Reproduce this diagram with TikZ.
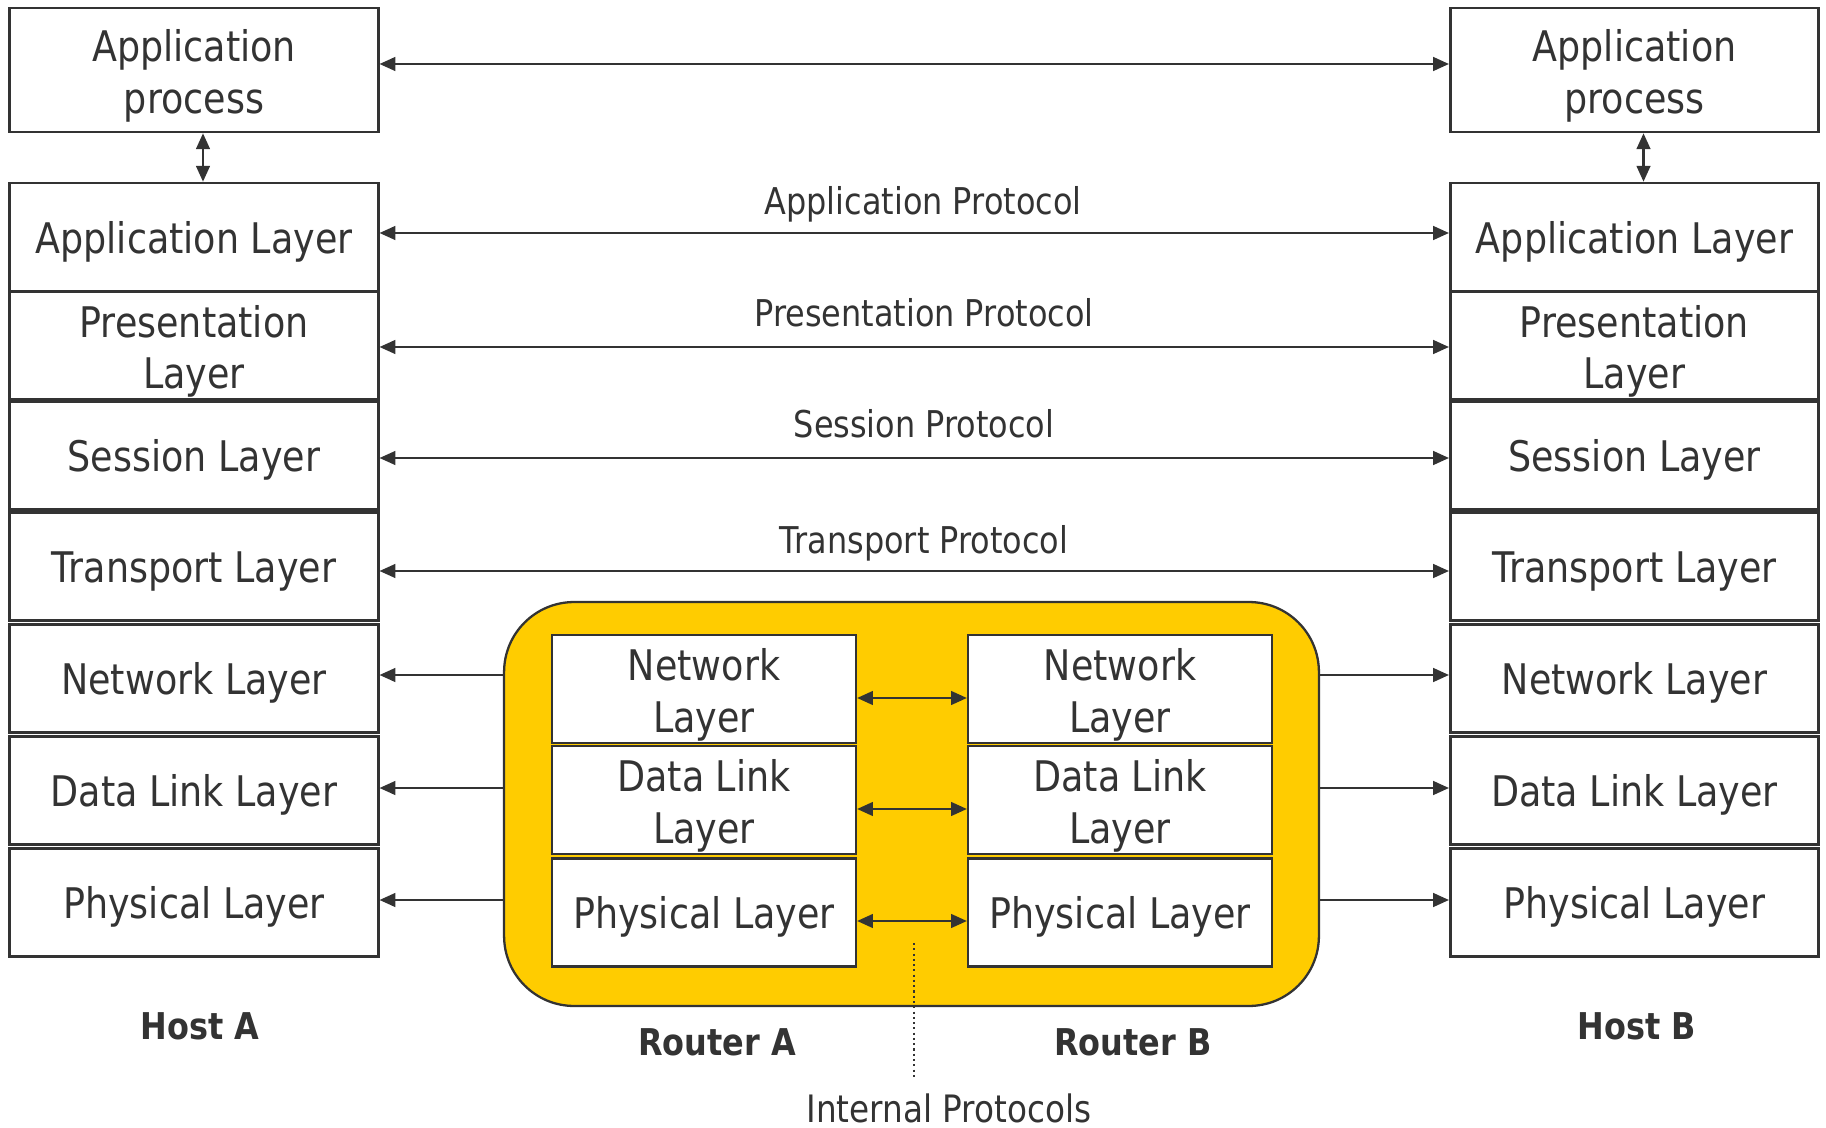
\documentclass[tikz,border=0pt]{standalone}
\usepackage{fontspec}
\setmainfont{DejaVu Sans}[FakeStretch=0.865]
\usetikzlibrary{arrows.meta}
\definecolor{ink}{HTML}{333333}
\definecolor{routerfill}{HTML}{FFCC00}
\begin{document}
\begin{tikzpicture}[x=0.02cm,y=-0.02cm,
  box/.style={draw=ink, line width=1.5pt, fill=white, inner sep=0pt, text=ink,
    font=\fontsize{24}{29.3}\selectfont, align=center,
    execute at begin node={\rule{0pt}{23.5pt}},
    minimum width=7.37cm, minimum height=2.16cm},
  twoline/.style={execute at begin node={\rule{0pt}{54pt}}},
  rbox/.style={box, line width=1.3pt, minimum width=6.08cm},
  lbl/.style={text=ink, font=\fontsize{21}{25}\selectfont, inner sep=0pt, anchor=base},
  blbl/.style={text=ink, font=\bfseries\fontsize{21}{25}\selectfont, inner sep=0pt, anchor=base},
  biarr/.style={draw=ink, line width=1.25pt, {Triangle[length=9pt,width=7.8pt]}-{Triangle[length=9pt,width=7.8pt]}},
  arr/.style={draw=ink, line width=1.25pt, -{Triangle[length=9pt,width=7.8pt]}}]
\useasboundingbox (0,0) rectangle (1826,1128);

% router background
\node[draw=ink, line width=1.3pt, fill=routerfill, rounded corners=1.4cm,
  minimum width=16.3cm, minimum height=8.08cm, inner sep=0pt] (router) at (911.5,804) {};

% Host A
\node[box, twoline, minimum height=2.48cm] (apL) at (194,70) {Application\\process};
\node[box] (appL) at (194,237) {Application Layer};
\node[box, twoline] (preL) at (194,345.5) {Presentation\\Layer};
\node[box] (sesL) at (194,455.5) {Session Layer};
\node[box] (traL) at (194,566.5) {Transport Layer};
\node[box] (netL) at (194,678.5) {Network Layer};
\node[box] (dllL) at (194,790.5) {Data Link Layer};
\node[box] (phyL) at (194,902.5) {Physical Layer};

% Host B
\node[box, twoline, minimum height=2.48cm] (apR) at (1634.5,70) {Application\\process};
\node[box] (appR) at (1634.5,237) {Application Layer};
\node[box, twoline] (preR) at (1634.5,345.5) {Presentation\\Layer};
\node[box] (sesR) at (1634.5,455.5) {Session Layer};
\node[box] (traR) at (1634.5,566.5) {Transport Layer};
\node[box] (netR) at (1634.5,678.5) {Network Layer};
\node[box] (dllR) at (1634.5,790.5) {Data Link Layer};
\node[box] (phyR) at (1634.5,902.5) {Physical Layer};

% Routers
\node[rbox, twoline] (netA) at (704,689) {Network\\Layer};
\node[rbox, twoline] (dllA) at (704,800) {Data Link\\Layer};
\node[rbox] (phyA) at (704,912.5) {Physical Layer};
\node[rbox, twoline] (netB) at (1120,689) {Network\\Layer};
\node[rbox, twoline] (dllB) at (1120,800) {Data Link\\Layer};
\node[rbox] (phyB) at (1120,912.5) {Physical Layer};

% top arrows
\draw[biarr] ([yshift=0.12cm]apL.east) -- ([yshift=0.12cm]apR.west);
\draw[biarr] ([xshift=0.18cm]apL.south) -- ([xshift=0.18cm]appL.north);
\draw[biarr] ([xshift=0.18cm]apR.south) -- ([xshift=0.18cm]appR.north);

% protocol arrows
\draw[biarr] ([yshift=0.08cm]appL.east) -- ([yshift=0.08cm]appR.west);
\draw[biarr] ([yshift=-0.03cm]preL.east) -- ([yshift=-0.03cm]preR.west);
\draw[biarr] ([yshift=-0.05cm]sesL.east) -- ([yshift=-0.05cm]sesR.west);
\draw[biarr] ([yshift=-0.09cm]traL.east) -- ([yshift=-0.09cm]traR.west);

\node[lbl] (lapp) at (923,215) {Application Protocol};
\node[lbl] (lpre) at (924,327) {Presentation Protocol};
\node[lbl] (lses) at (924,438) {Session Protocol};
\node[lbl] (ltra) at (924,553) {Transport Protocol};

% side arrows
\draw[arr] ([yshift=0.07cm]router.west |- netL.east) -- ([yshift=0.07cm]netL.east);
\draw[arr] ([yshift=0.05cm]router.west |- dllL.east) -- ([yshift=0.05cm]dllL.east);
\draw[arr] ([yshift=0.05cm]router.west |- phyL.east) -- ([yshift=0.05cm]phyL.east);
\draw[arr] ([yshift=0.07cm]router.east |- netR.west) -- ([yshift=0.07cm]netR.west);
\draw[arr] ([yshift=0.05cm]router.east |- dllR.west) -- ([yshift=0.05cm]dllR.west);
\draw[arr] ([yshift=0.05cm]router.east |- phyR.west) -- ([yshift=0.05cm]phyR.west);

% router internal arrows
\draw[biarr] ([yshift=-0.18cm]netA.east) -- ([yshift=-0.18cm]netB.west);
\draw[biarr] ([yshift=-0.18cm]dllA.east) -- ([yshift=-0.18cm]dllB.west);
\draw[biarr] ([yshift=-0.17cm]phyA.east) -- ([yshift=-0.17cm]phyB.west);

% labels
\node[blbl] (hostA) at (200,1039) {Host A};
\node[blbl] (hostB) at (1637,1039) {Host B};
\node[blbl] (routA) at (717,1055) {Router A};
\node[blbl] (routB) at (1133,1055) {Router B};
\node[lbl, font=\fontsize{21.5}{25}\selectfont] (internal) at (949,1122) {Internal Protocols};

\coordinate (dotTop) at (914,943);
\coordinate (dotBot) at (914,1077);
\draw[draw=ink, line width=1pt, dash pattern=on 1.2pt off 1.8pt] (dotTop) -- (dotBot);
\end{tikzpicture}
\end{document}
